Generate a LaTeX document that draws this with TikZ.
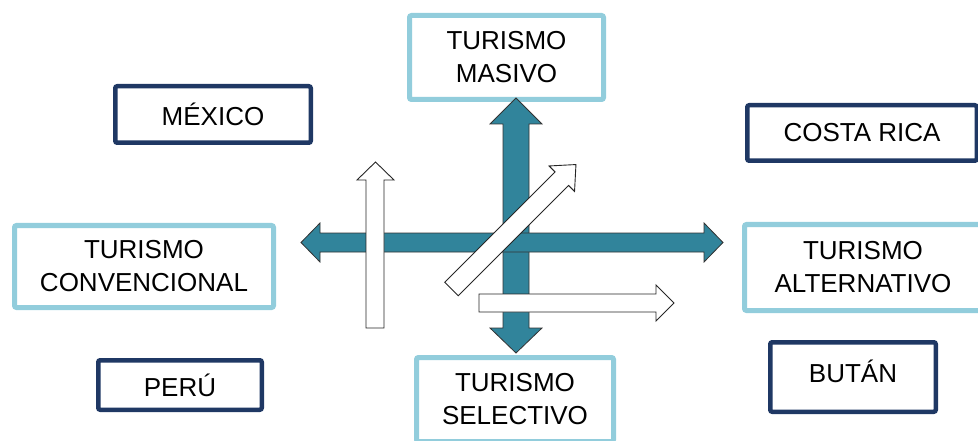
\documentclass[tikz,border=0pt]{standalone}
\usepackage{fontspec}
\setmainfont{Liberation Sans}
\usepackage{xcolor}
\usepackage{tikz}

\definecolor{tealarrow}{HTML}{31849B}
\definecolor{lightframe}{HTML}{92CDDC}
\definecolor{navyframe}{HTML}{1F3864}

\begin{document}
\begin{tikzpicture}[
				x=1pt,y=-1pt,
				typebox/.style={
					rectangle,
					draw=lightframe,
					line width=5pt,
					rounded corners=2pt,
					fill=white,
					align=center,
					font=\fontsize{26}{33}\selectfont
				},
				countrybox/.style={
					rectangle,
					draw=navyframe,
					line width=4.5pt,
					rounded corners=2pt,
					fill=white,
					align=center,
					font=\fontsize{26}{33}\selectfont
				},
				bigarrow/.style={
					fill=tealarrow,
					draw=black!80,
					line width=0.8pt,
					line join=miter
				},
				thinarrow/.style={
					fill=white,
					draw=black!85,
					line width=0.9pt,
					line join=miter
				}
			]
			\useasboundingbox (0,0) rectangle (978,441);
			% Types of tourism
			\node[typebox, minimum width=194, minimum height=84] (masivo) at (506.5,57.5) {TURISMO\\MASIVO};
			\node[typebox, minimum width=197, minimum height=84] (selectivo) at (515,399.5) {TURISMO\\SELECTIVO};
			\node[typebox, minimum width=259, minimum height=82] (convencional) at (144,266.5) {TURISMO\\CONVENCIONAL};
			\node[typebox, minimum width=237, minimum height=86] (alternativo) at (863,267.5) {TURISMO\\ALTERNATIVO};
			
			% Countries
			\node[countrybox, minimum width=195.5, minimum height=56.5] (mexico) at (213,114.5) {MÉXICO};
			\node[countrybox, minimum width=229.5, minimum height=55.5] (costarica) at (862,133) {COSTA RICA};
			\node[countrybox, minimum width=163.5, minimum height=49.5] (peru) at (180,385) {PERÚ};
			\node[countrybox, minimum width=165.5, minimum height=69.5, text depth=12pt] (butan) at (853,377) {BUTÁN};
			
			% Axes
			\draw[bigarrow] (516,98) -- (542,124) -- (529,124) -- (529,328) -- (542,328) -- (516,353)
				-- (490,328) -- (503,328) -- (503,124) -- (490,124) -- cycle;
			\draw[bigarrow] (301,242.5) -- (320,223) -- (320,233) -- (704,233) -- (704,223) -- (723,242.5)
				-- (704,262) -- (704,252) -- (320,252) -- (320,262) -- cycle;
			
			% Movements
			\draw[thinarrow] (375.5,162) -- (394,180) -- (384,180) -- (384,328) -- (366,328) -- (366,180) -- (357,180) -- cycle;
			\draw[thinarrow] (674,303) -- (656,321) -- (656,312) -- (479,312) -- (479,294) -- (656,294) -- (656,285) -- cycle;
			\begin{scope}[shift={(451.5,289)}, rotate=45]
				\draw[thinarrow] (0,-9.5) -- (156,-9.5) -- (156,-18) -- (176,0) -- (156,18) -- (156,9.5) -- (0,9.5) -- cycle;
			\end{scope}
		\end{tikzpicture}
\end{document}
